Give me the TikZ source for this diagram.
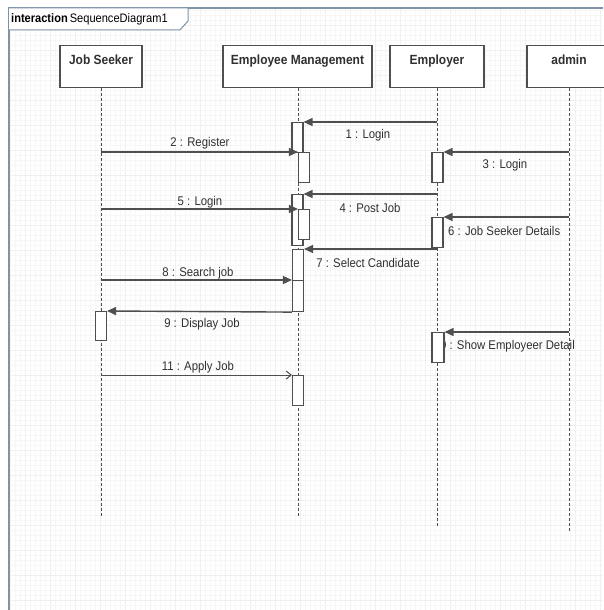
\documentclass[tikz,border=0pt]{standalone}
\usepackage{fontspec}
\setmainfont{Liberation Sans}[FakeStretch=0.9]
\usetikzlibrary{arrows.meta}
\definecolor{framec}{HTML}{7F93A8}
\definecolor{linec}{HTML}{4F4F4F}
\definecolor{txtc}{HTML}{303030}
\tikzset{
 headbox/.style={draw=linec, line width=1.2pt, fill=white, inner sep=5pt, text height=14pt, text depth=18pt, font=\bfseries\fontsize{13.3}{16}\selectfont, text=txtc, anchor=north, minimum height=42pt},
 lifeline/.style={draw=linec, line width=1pt, dash pattern=on 3pt off 2pt},
 actbox/.style={draw=linec, line width=1.1pt, fill=white, minimum width=11pt, inner sep=0pt, anchor=north},
 msg/.style={draw=linec, line width=1.4pt, -{Triangle[length=9pt,width=8pt]}},
 msgopen/.style={draw=linec, line width=1pt, -{Straight Barb[length=5pt,width=8pt]}},
 lbl/.style={font=\fontsize{12.6}{14}\selectfont, text=txtc, inner sep=1pt},
 gridminor/.style={draw=black!3, line width=0.25pt},
 gridmajor/.style={draw=black!6, line width=0.3pt},
 framebox/.style={draw=framec, line width=1.5pt},
}
\begin{document}
\begin{tikzpicture}[x=1pt,y=-1pt]
\useasboundingbox (0,0) rectangle (603,610);
\fill[white] (0,0) rectangle (603,610);
% grid
\draw[gridminor, step=5pt] (9,8) grid (603,610);
\draw[gridmajor, step=25pt] (9,8) grid (603,610);
% frame
\draw[framebox] (9,610) -- (9,8) -- (603,8);
\draw[framec, line width=1pt, fill=white] (9,8) -- (188,8) -- (188,21) -- (180,30) -- (9,30);
\node[anchor=west, font=\fontsize{12.3}{14}\selectfont, text=black, inner sep=0pt] (title) at (11,19) {\textbf{interaction}\,SequenceDiagram1};
% headers
\node[headbox, minimum width=82pt] (hJS) at (101,45) {Job Seeker};
\node[headbox, minimum width=149pt] (hEM) at (297.5,45) {Employee Management};
\node[headbox, minimum width=94pt] (hER) at (437,45) {Employer};
\node[headbox, minimum width=84pt] (hAD) at (569,45) {admin};
% lifeline ends
\coordinate (eJS) at (101,517);
\coordinate (eEM) at (298,517);
\coordinate (eER) at (437,527);
\coordinate (eAD) at (569,533);
\draw[lifeline] (hJS.south) -- (eJS);
\draw[lifeline] (hEM.south -| eEM) -- (eEM);
\draw[lifeline, line width=0.7pt] (hER.south) -- (eER);
\draw[lifeline] (hAD.south) -- (eAD);
% labels
\node[lbl] (l1) at (368,135) {1 : Login};
\node[lbl] (l2) at (200,143) {2 : Register};
\node[lbl] (l3) at (505,165) {3 : Login};
\node[lbl] (l4) at (370,208) {4 : Post Job};
\node[lbl] (l5) at (200,202) {5 : Login};
\node[lbl, anchor=west] (l6) at (447,231) {6 : Job Seeker Details};
\node[lbl] (l7) at (368,263) {7 : Select Candidate};
\node[lbl] (l8) at (198,273) {8 : Search job};
\node[lbl] (l9) at (202,324) {9 : Display Job};
\node[lbl, anchor=east] (l10) at (576,346) {10 : Show Employeer Detail};
\node[lbl] (l11) at (198,367) {11 : Apply Job};
% activations
\node[actbox, minimum height=30pt] (aEM1) at (297.5,122) {};
\node[actbox, minimum height=30pt] (aEM1b) at (304,152) {};
\node[actbox, minimum height=51pt] (aEM2) at (297.5,194) {};
\node[actbox, minimum height=30pt] (aEM2b) at (304,209) {};
\node[actbox, minimum height=31pt] (aEM3) at (298,249) {};
\node[actbox, minimum height=31pt] (aEM3b) at (298,280) {};
\node[actbox, minimum height=30pt] (aEM4) at (298,375) {};
\node[actbox, minimum height=30pt] (aER1) at (437.5,152) {};
\node[actbox, minimum height=30pt] (aER2) at (437.5,217) {};
\node[actbox, minimum height=30pt, minimum width=12pt] (aER3) at (438,332) {};
\node[actbox, minimum height=29pt] (aJS1) at (101,311) {};
% message start points on lifelines
\coordinate (s1) at (437,122);
\coordinate (s2) at (101,152);
\coordinate (s3) at (569,152);
\coordinate (s4) at (437,194);
\coordinate (s5) at (101,209);
\coordinate (s6) at (569,217);
\coordinate (s7) at (437,249);
\coordinate (s8) at (101,280);
\coordinate (s10) at (569,332);
\coordinate (s11) at (101,375);
% messages
\draw[msg] (s1) -- (aEM1.north east);
\draw[msg] (s2) -- (aEM1b.north west);
\draw[msg] (s3) -- (aER1.north east);
\draw[msg] (s4) -- (aEM2.north east);
\draw[msg] (s5) -- (aEM2b.north west);
\draw[msg] (s6) -- (aER2.north east);
\draw[msg] (s7) -- (aEM3.north east);
\draw[msg] (s8) -- (aEM3b.north west);
\draw[msg] (aEM3b.south west) -- (aJS1.north east);
\draw[msg] (s10) -- (aER3.north east);
\draw[msgopen] (s11) -- (aEM4.north west);
\end{tikzpicture}
\end{document}
